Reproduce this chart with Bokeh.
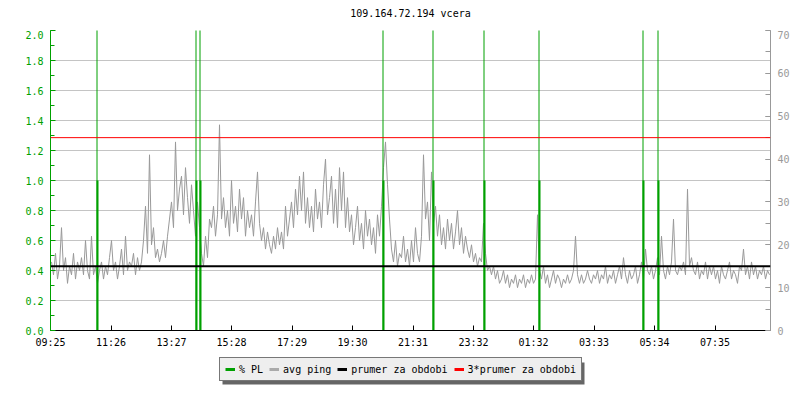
from bokeh.plotting import figure
from bokeh.layouts import column
from bokeh.models import (Range1d, LinearAxis, FixedTicker, SingleIntervalTicker,
                          Span, Legend, LegendItem, NumeralTickFormatter,
                          ColumnDataSource, Label)
from bokeh.transform import dodge
from bokeh.embed import file_html
from bokeh.resources import INLINE

TITLE = "109.164.72.194 vcera"

# x axis: minutes since 09:25
tick_minutes = [0, 121, 242, 362, 483, 604, 725, 846, 966, 1087, 1208, 1329]
tick_labels = ["09:25", "11:26", "13:27", "15:28", "17:29", "19:30",
               "21:31", "23:32", "01:32", "03:33", "05:34", "07:35"]

# packet loss events (minutes, % PL)
pl_times = [93, 291, 299, 665, 765, 867, 977, 1185, 1215]
pl_values = [1.0, 1.0, 1.0, 1.0, 1.0, 1.0, 1.0, 1.0, 1.0]
pl_marks = [5.0, 5.0, 5.0, 5.0, 5.0, 5.0, 5.0, 5.0, 5.0]

# average ping [ms], one sample every 4 minutes
ping_step = 4
ping_ms = [
    16, 13, 18, 12, 15,  24, 14, 17, 11, 15,
    13, 18, 12, 16, 14,  17, 13, 21, 14, 12,
    22, 13, 15, 11, 14,  16, 12, 15, 13, 17,
    21, 14, 16, 12, 15,  19, 13, 22, 14, 16,
    15, 18, 13, 17, 14,  16, 21, 29, 18, 41,
    20, 24, 17, 19, 16,  18, 21, 17, 22, 26,
    30, 24, 44, 28, 33,  36, 27, 38, 31, 25,
    34, 28, 22, 30, 24,  18, 15, 22, 17, 26,
    24, 29, 22, 27, 48,  26, 31, 24, 28, 22,
    35, 25, 29, 23, 33,  26, 31, 22, 28, 24,
    27, 22, 30, 37, 25,  21, 24, 19, 23, 20,
    18, 22, 19, 24, 20,  23, 19, 29, 22, 26,
    30, 24, 33, 27, 36,  28, 37, 25, 31, 24,
    29, 23, 33, 26, 30,  24, 34, 40, 27, 31,
    36, 25, 33, 24, 38,  28, 37, 24, 31, 23,
    27, 20, 24, 29, 21,  25, 19, 28, 22, 26,
    20, 24, 18, 27, 22,  29, 38, 44, 34, 26,
    19, 16, 21, 15, 18,  17, 22, 16, 19, 15,
    21, 16, 24, 18, 16,  22, 41, 26, 30, 21,
    37, 25, 29, 22, 27,  20, 24, 19, 26, 21,
    25, 19, 23, 28, 20,  24, 18, 22, 19, 17,
    20, 16, 18, 15, 17,  16, 25, 18, 14, 15,
    13, 15, 12, 14, 11,  12, 14, 11, 13, 10,
    12, 11, 13, 10, 12,  11, 13, 10, 12, 11,
    13, 11, 12, 27, 14,  12, 15, 11, 13, 10,
    12, 14, 11, 13, 12,  10, 12, 11, 13, 11,
    12, 14, 22, 13, 11,  13, 11, 12, 14, 12,
    11, 13, 12, 14, 11,  13, 12, 15, 11, 13,
    12, 14, 11, 13, 15,  12, 17, 13, 11, 14,
    12, 13, 15, 11, 13,  16, 12, 19, 14, 13,
    15, 12, 14, 17, 13,  22, 14, 12, 15, 13,
    16, 26, 14, 13, 15,  14, 16, 13, 33, 15,
    17, 14, 13, 16, 12,  14, 13, 16, 12, 15,
    13, 15, 12, 14, 11,  15, 13, 12, 14, 16,
    12, 14, 13, 11, 15,  14, 19, 13, 15, 12,
    16, 13, 15, 12, 14,  13, 15, 12, 14, 13,
]
avg_ms = 15.0          # prumer za obdobi
avg3_ms = 3 * avg_ms   # 3*prumer za obdobi

GREEN = "#00a000"
GRAY = "#999999"
FONT = "DejaVu Sans Mono"

ping_t = [ping_step * i + ping_step / 2 for i in range(len(ping_ms))]

# title strip
tf = figure(width=792, height=30, x_range=Range1d(0, 720), y_range=Range1d(0, 30),
            output_backend="svg", toolbar_location=None,
            x_axis_type=None, y_axis_type=None, min_border=0)
tf.outline_line_color = None
tf.grid.visible = False
tf.add_layout(Label(x=360, y=17, text=TITLE, text_align="center",
                    text_baseline="middle", text_font=FONT,
                    text_font_size="10px", text_color="black"))

p = figure(frame_width=720, frame_height=300,
           x_range=Range1d(0, 1440), y_range=Range1d(0, 2.0),
           output_backend="svg", toolbar_location=None,
           min_border_left=50, min_border_right=22, min_border_top=0,
           min_border_bottom=22, background_fill_color="white")
p.extra_y_ranges = {"ms": Range1d(0, 70)}
p.outline_line_color = None

# left axis
ya = p.yaxis[0]
ya.ticker = SingleIntervalTicker(interval=0.2, num_minor_ticks=2)
ya.formatter = NumeralTickFormatter(format="0.0")
ya.axis_line_color = GREEN
ya.major_tick_line_color = GREEN
ya.minor_tick_line_color = GREEN
ya.major_tick_in = 5
ya.major_tick_out = 0
ya.minor_tick_in = 4
ya.minor_tick_out = 0
ya.major_label_text_color = GREEN
ya.major_label_text_font = FONT
ya.major_label_text_font_size = "10px"
ya.major_label_standoff = 7

# bottom axis
xa = p.xaxis[0]
xa.ticker = FixedTicker(ticks=tick_minutes)
xa.major_label_overrides = {t: l for t, l in zip(tick_minutes, tick_labels)}
xa.axis_line_color = "black"
xa.major_tick_line_color = "black"
xa.major_tick_in = 5
xa.major_tick_out = 0
xa.minor_tick_line_color = None
xa.major_label_text_font = FONT
xa.major_label_text_font_size = "10px"
xa.major_label_text_color = "black"
xa.major_label_standoff = 6

# right axis
ra = LinearAxis(y_range_name="ms",
                ticker=SingleIntervalTicker(interval=10, num_minor_ticks=2))
ra.axis_line_color = GRAY
ra.major_tick_line_color = GRAY
ra.minor_tick_line_color = GRAY
ra.major_tick_in = 5
ra.major_tick_out = 0
ra.minor_tick_in = 5
ra.minor_tick_out = 0
ra.major_label_text_color = GRAY
ra.major_label_text_font = FONT
ra.major_label_text_font_size = "10px"
ra.major_label_standoff = 7
p.add_layout(ra, "right")

p.xgrid.visible = False
p.ygrid.grid_line_color = "#c4c4c4"

# avg ping
p.line(ping_t, ping_ms, y_range_name="ms", line_color=GRAY, line_width=1)

# packet loss
pl_src = ColumnDataSource(dict(t=pl_times, v=pl_values, m=pl_marks,
                               z=[0] * len(pl_times)))
p.segment(x0="t", y0="z", x1="t", y1="m",
          source=pl_src, line_color=GREEN, line_width=1)
p.segment(x0=dodge("t", 1.0), y0="z", x1=dodge("t", 1.0), y1="v", source=pl_src,
          line_color=GREEN, line_width=2)

p.add_layout(Span(location=avg_ms, dimension="width", y_range_name="ms",
                  line_color="black", line_width=2))
p.add_layout(Span(location=avg3_ms, dimension="width", y_range_name="ms",
                  line_color="red", line_width=1))

# legend strip below the chart (ranges in pixels of the strip)
lf = figure(width=792, height=40, x_range=Range1d(0, 720), y_range=Range1d(0, 40),
            output_backend="svg", toolbar_location=None,
            x_axis_type=None, y_axis_type=None, min_border=0)
lf.outline_line_color = None
lf.grid.visible = False

# drop shadow of the legend box
lf.quad(left=[172], right=[534], bottom=[8], top=[30], fill_color="#666666",
        line_color=None)

labels = ["% PL", "avg ping", "prumer za obdobi", "3*prumer za obdobi"]
colors = [GREEN, "#aaaaaa", "black", "red"]
leg_r = [lf.line([-50], [-50], line_color=c, line_width=3) for c in colors]

legend = Legend(items=[LegendItem(label=l, renderers=[r]) for l, r in zip(labels, leg_r)],
                location=(169, 11))
legend.orientation = "horizontal"
legend.label_text_font = FONT
legend.label_text_font_size = "10px"
legend.glyph_width = 10
legend.glyph_height = 12
legend.label_height = 12
legend.label_standoff = 4
legend.spacing = 6
legend.padding = 5
legend.margin = 0
legend.background_fill_color = "#eeeeee"
legend.background_fill_alpha = 1
legend.border_line_color = "black"
legend.border_line_width = 1
legend.label_text_color = "black"
lf.add_layout(legend)

layout = column(tf, p, lf, spacing=0)
open("out.html", "w").write(file_html(layout, INLINE))
